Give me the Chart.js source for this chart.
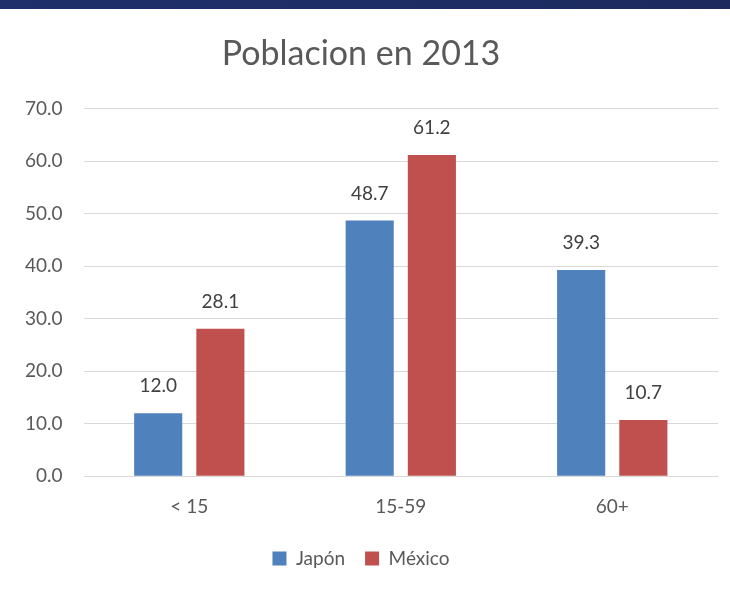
<!DOCTYPE html>
<html>
<head>
<meta charset="utf-8">
<script src="https://cdn.jsdelivr.net/npm/chart.js@4.4.0/dist/chart.umd.min.js"></script>
<style>
  html, body { margin: 0; padding: 0; background: #fff; }
  .band { height: 9px; background: linear-gradient(90deg, #1f2f6b, #1c2a5e); }
  .wrap { position: relative; width: 730px; height: 585px; }
</style>
</head>
<body>
<div class="band"></div>
<div class="wrap"><canvas id="poblacion"></canvas></div>
<script>
const categorias = ['< 15', '15-59', '60+'];
const japon = [12.0, 48.7, 39.3];
const mexico = [28.1, 61.2, 10.7];
const ticksY = [0, 10, 20, 30, 40, 50, 60, 70];

const FONT = 'Lato, "Open Sans", sans-serif';

// etiquetas de valor encima de cada barra
const etiquetas = {
  id: 'etiquetas',
  afterDatasetsDraw(chart) {
    const ctx = chart.ctx;
    ctx.save();
    ctx.font = '19px ' + FONT;
    ctx.fillStyle = '#404040';
    ctx.textAlign = 'center';
    ctx.textBaseline = 'middle';
    chart.data.datasets.forEach((ds, i) => {
      chart.getDatasetMeta(i).data.forEach((bar, j) => {
        ctx.fillText(ds.data[j].toFixed(1), bar.x, bar.y - 27);
      });
    });
    ctx.restore();
  }
};

new Chart(document.getElementById('poblacion'), {
  type: 'bar',
  data: {
    labels: categorias,
    datasets: [
      { label: 'Japón', data: japon, backgroundColor: '#4f81bd' },
      { label: 'México', data: mexico, backgroundColor: '#c0504d' }
    ]
  },
  options: {
    responsive: true,
    maintainAspectRatio: false,
    animation: false,
    categoryPercentage: 0.588,
    barPercentage: 0.774,
    layout: { padding: { left: 4, right: 12, top: 0, bottom: 16 } },
    scales: {
      x: {
        grid: { display: false },
        border: { display: false },
        ticks: { color: '#595959', font: { family: FONT, size: 19 }, padding: 11 }
      },
      y: {
        min: 0,
        max: 70,
        afterBuildTicks: axis => { axis.ticks = ticksY.map(v => ({ value: v })); },
        grid: { color: '#d9d9d9', drawTicks: false },
        border: { display: false },
        ticks: {
          color: '#595959',
          font: { family: FONT, size: 19 },
          padding: 21,
          callback: v => Number(v).toFixed(1)
        }
      }
    },
    plugins: {
      title: {
        display: true,
        text: 'Poblacion en 2013',
        color: '#595959',
        font: { family: FONT, size: 34, weight: 'normal' },
        padding: { top: 25, bottom: 34 }
      },
      legend: {
        position: 'bottom',
        labels: {
          color: '#595959',
          font: { family: FONT, size: 19 },
          boxWidth: 14,
          boxHeight: 14,
          padding: 20
        }
      },
      tooltip: { enabled: false }
    }
  },
  plugins: [etiquetas]
});
</script>
</body>
</html>
